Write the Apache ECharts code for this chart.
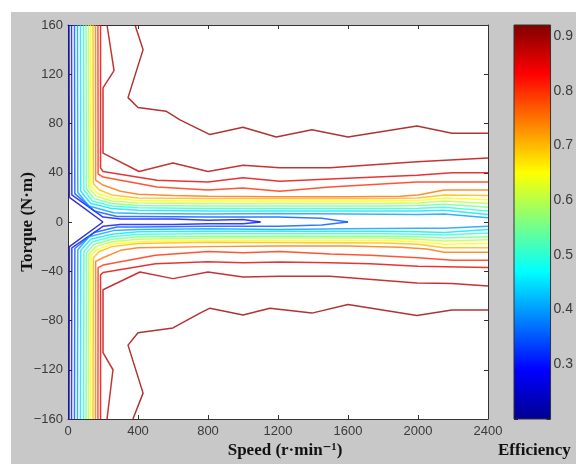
<!DOCTYPE html>
<html><head><meta charset="utf-8">
<script src="https://cdn.jsdelivr.net/npm/echarts@6/dist/echarts.min.js"></script>
<style>html,body{margin:0;padding:0;background:#fff}#c{width:576px;height:464px}</style>
</head><body><div id="c"></div>
<script>
const speedTicks = [0, 400, 800, 1200, 1600, 2000, 2400];
const torqueTicks = [-160, -120, -80, -40, 0, 40, 80, 120, 160];
const effTicks = [0.3, 0.4, 0.5, 0.6, 0.7, 0.8, 0.9];
const effRange = [0.2, 0.92];

// contour lines: [speed (r/min), torque (N·m)]
const up90 = [[383,160],[429,140],[343,101],[400,93],[560,90],[640,83],[811,71],[1000,77],[1190,69],[1394,75],[1600,69],[1994,78],[2194,72],[2400,72]];
const lo90 = [[371,-160],[429,-139],[343,-100],[400,-90],[600,-86],[754,-74],[811,-70],[1000,-75.5],[1154,-70],[1394,-74],[1600,-67],[1994,-76],[2194,-71.5],[2400,-71.5]];
const up88 = [[223,160],[263,123],[200,109],[200,56],[406,41],[600,48],[800,41],[1000,46],[1211,44],[1497,44],[1994,49],[2400,52]];
const lo88 = [[223,-160],[257,-120],[200,-106],[200,-55],[411,-40.6],[600,-46],[800,-40.6],[1000,-44.7],[1211,-44],[1497,-44],[1994,-49.5],[2194,-50],[2400,-52]];
const up85 = [[186,160],[186,44],[200,41],[509,34],[800,32.5],[1000,36],[1211,33],[1497,35],[1994,38],[2194,40],[2400,40]];
const lo85 = [[186,-160],[186,-43],[200,-41],[500,-34],[800,-32.2],[1000,-33],[1211,-32.4],[1497,-33],[1726,-34],[2000,-36],[2400,-37]];
const up80 = [[171,160],[172,39],[200,36.5],[509,28.4],[800,26],[1000,27.6],[1211,25],[1497,28.4],[1994,32.5],[2400,32.5]];
const lo80 = [[171,-160],[172,-37],[200,-35],[500,-27],[800,-24],[1000,-25],[1211,-24],[1500,-26],[1726,-27],[2000,-29],[2200,-31],[2400,-31]];
const up75 = [[157,160],[158,34],[200,30],[300,25],[400,22.5],[600,21.5],[800,21],[1200,20.5],[1600,20.5],[1900,21],[2000,22],[2150,26],[2400,26]];
const lo75 = [[157,-160],[158,-32],[200,-29],[300,-23],[400,-21],[800,-20],[1200,-19.5],[1600,-19.5],[1900,-20.5],[2050,-22],[2150,-24.5],[2400,-24.5]];
const up70 = [[143,160],[145,31],[180,26],[250,22],[400,19.5],[800,19],[1800,19],[2000,19.5],[2150,22],[2400,21.5]];
const lo70 = [[143,-160],[145,-29],[180,-24],[250,-20],[400,-17.5],[800,-16.5],[1800,-17],[2000,-18],[2150,-21],[2400,-21]];
const up65 = [[129,160],[131,29],[170,23],[250,19.5],[400,17.5],[800,17],[1800,17],[2000,17.5],[2150,19.5],[2400,18]];
const lo65 = [[129,-160],[131,-27],[170,-22],[250,-18],[400,-16],[800,-15],[1800,-15],[2000,-16],[2150,-18],[2400,-17.5]];
const up60 = [[117,160],[119,28],[160,21],[250,17],[400,15.5],[800,15],[1800,15],[2000,15.5],[2150,17],[2400,15]];
const lo60 = [[117,-160],[119,-26],[160,-20],[250,-16],[400,-14],[800,-13],[1800,-13],[2000,-14],[2150,-15.5],[2400,-14.5]];
const up55 = [[103,160],[105,27],[150,19],[250,15],[400,13.5],[800,13],[1800,13],[2000,13.5],[2150,14.5],[2400,12]];
const lo55 = [[103,-160],[105,-25],[150,-18],[250,-14],[400,-12],[800,-11.5],[1800,-11.5],[2000,-12],[2150,-13],[2400,-12]];
const up50 = [[89,160],[91,26],[140,17],[250,13],[400,11.5],[800,11],[1800,11],[2000,11.2],[2150,12],[2400,9]];
const lo50 = [[89,-160],[91,-24],[140,-16],[250,-12],[400,-10],[800,-9.5],[1800,-9.5],[2000,-10],[2150,-10.5],[2400,-9]];
const up45 = [[71,160],[73,25],[130,15],[250,11],[400,9.5],[800,9],[1800,9],[2000,9],[2150,9.5],[2400,6]];
const lo45 = [[71,-160],[73,-23],[130,-14],[250,-10],[400,-8],[800,-7.5],[1800,-7.5],[2000,-8],[2150,-8.5],[2400,-6]];
const up40 = [[54,160],[56,24],[120,13],[260,7.5],[400,7],[800,6.5],[1200,7],[1600,6.5],[2000,6],[2150,6.5],[2400,3.5]];
const lo40 = [[54,-160],[56,-22.5],[120,-12],[260,-7],[400,-6],[800,-5.5],[1200,-6],[1600,-5.5],[2000,-5],[2150,-5],[2400,-3.5]];
const up35 = [[37,160],[39,23],[150,9],[280,4.5],[400,4.5],[800,4],[1200,4],[1450,3],[1600,0]];
const lo35 = [[37,-160],[39,-21.5],[150,-8.5],[280,-4],[400,-4],[800,-3.5],[1200,-3.5],[1450,-2.5],[1600,0]];
const up30 = [[20,160],[22,22],[200,4],[300,2.5],[600,2.5],[800,1.5],[1000,2],[1100,0]];
const lo30 = [[20,-160],[22,-21],[200,-3.5],[300,-2],[600,-2],[800,-1.5],[1000,-1.5],[1100,0]];
const up25 = [[6,160],[8,20],[200,0]];
const lo25 = [[6,-160],[8,-20],[200,0]];

const contours = [
  [0.25, up25, lo25], [0.30, up30, lo30], [0.35, up35, lo35], [0.40, up40, lo40],
  [0.45, up45, lo45], [0.50, up50, lo50], [0.55, up55, lo55], [0.60, up60, lo60],
  [0.65, up65, lo65], [0.70, up70, lo70], [0.75, up75, lo75], [0.80, up80, lo80],
  [0.85, up85, lo85], [0.88, up88, lo88], [0.90, up90, lo90]
];

function jet(v) {
  const t = (v - effRange[0]) / (effRange[1] - effRange[0]);
  const c = x => Math.round(255 * Math.max(0, Math.min(1, x)));
  return 'rgb(' + c(1.5 - Math.abs(4*t - 3)) + ',' + c(1.5 - Math.abs(4*t - 2)) + ',' + c(1.5 - Math.abs(4*t - 1)) + ')';
}

const chart = echarts.init(document.getElementById('c'), null, {renderer: 'canvas'});
const labelFont = {color: '#3a3a3a', fontSize: 13, fontFamily: 'Liberation Sans, Arial, sans-serif'};
const axisLineStyle = {show: true, onZero: false, lineStyle: {color: '#333', width: 1}};
const tickStyle = {show: true, inside: true, length: 4, lineStyle: {color: '#333'}};

const lineSeries = [];
contours.forEach(([lv, u, l]) => {
  [u, l].forEach(d => {
    lineSeries.push({
      type: 'line', xAxisIndex: 0, yAxisIndex: 0, data: d,
      symbol: 'none', showSymbol: false, silent: true, animation: false,
      lineStyle: {color: jet(lv), width: 1.5, opacity: 0.8}
    });
  });
});

const option = {
  backgroundColor: '#c8c8c8',
  animation: false,
  grid: [
    {left: 68, top: 25, width: 420, height: 394, show: true, backgroundColor: '#fff', borderWidth: 0},
    {left: 514, top: 25, width: 38, height: 394, show: false}
  ],
  xAxis: [
    {gridIndex: 0, type: 'value', position: 'bottom', min: speedTicks[0], max: speedTicks[speedTicks.length-1], interval: 400,
     axisLine: axisLineStyle, axisTick: tickStyle,
     axisLabel: Object.assign({margin: 6, formatter: v => String(v)}, labelFont), splitLine: {show: false}},
    {gridIndex: 0, type: 'value', position: 'top', min: speedTicks[0], max: speedTicks[speedTicks.length-1], interval: 400,
     axisLine: axisLineStyle, axisTick: tickStyle,
     axisLabel: {show: false}, splitLine: {show: false}},
    {gridIndex: 1, type: 'value', min: 0, max: 1, show: false}
  ],
  yAxis: [
    {gridIndex: 0, type: 'value', position: 'left', min: torqueTicks[0], max: torqueTicks[torqueTicks.length-1], interval: 40,
     axisLine: axisLineStyle, axisTick: tickStyle,
     axisLabel: Object.assign({margin: 5, formatter: v => String(v).replace('-', '\u2212')}, labelFont), splitLine: {show: false}},
    {gridIndex: 0, type: 'value', position: 'right', min: torqueTicks[0], max: torqueTicks[torqueTicks.length-1], interval: 40,
     axisLine: axisLineStyle, axisTick: tickStyle,
     axisLabel: {show: false}, splitLine: {show: false}},
    {gridIndex: 1, type: 'value', position: 'right', min: effRange[0], max: effRange[1], interval: 0.1,
     axisLine: {show: false, onZero: false}, axisTick: {show: true, inside: true, length: 4, lineStyle: {color: '#222'}},
     axisLabel: Object.assign({}, labelFont, {fontSize: 14, margin: 3,
       formatter: v => effTicks.some(t => Math.abs(t - v) < 1e-6) ? v.toFixed(1) : ''}),
     splitLine: {show: false}},
    {gridIndex: 1, type: 'value', position: 'left', min: effRange[0], max: effRange[1], interval: 0.1,
     axisLine: {show: false, onZero: false}, axisTick: {show: true, inside: true, length: 4, lineStyle: {color: '#222'}},
     axisLabel: {show: false}, splitLine: {show: false}}
  ],
  graphic: [
    {type: 'rect', shape: {x: 0, y: 0, width: 576, height: 12}, style: {fill: '#fff'}, silent: true},
    {type: 'rect', shape: {x: 0, y: 0, width: 11, height: 464}, style: {fill: '#fff'}, silent: true},
    {type: 'text', x: 28, y: 222, rotation: Math.PI / 2,
     style: {text: 'Torque (N\u00b7m)', font: 'bold 17px "Liberation Serif", "DejaVu Serif", serif', fill: '#111',
             textAlign: 'center', textVerticalAlign: 'middle'}},
    {type: 'text', x: 285, y: 451,
     style: {text: 'Speed (r\u00b7min\u207b\u00b9)', font: 'bold 17px "Liberation Serif", "DejaVu Serif", serif', fill: '#111',
             textAlign: 'center', textVerticalAlign: 'middle'}},
    {type: 'text', x: 498, y: 451,
     style: {text: 'Efficiency', font: 'bold 17px "Liberation Serif", "DejaVu Serif", serif', fill: '#111',
             textAlign: 'left', textVerticalAlign: 'middle'}}
  ],
  series: lineSeries.concat([{
    type: 'custom', xAxisIndex: 2, yAxisIndex: 2, silent: true, animation: false,
    data: [[0, effRange[0], effRange[1]]],
    renderItem: (params, api) => {
      const p0 = api.coord([0, api.value(2)]);
      const p1 = api.coord([1, api.value(1)]);
      return {
        type: 'rect',
        shape: {x: p0[0], y: p0[1], width: p1[0] - p0[0], height: p1[1] - p0[1]},
        style: {
          fill: new echarts.graphic.LinearGradient(0, 0, 0, 1, [
            {offset: 0, color: '#800000'}, {offset: 0.125, color: '#ff0000'},
            {offset: 0.375, color: '#ffff00'}, {offset: 0.625, color: '#00ffff'},
            {offset: 0.875, color: '#0000ff'}, {offset: 1, color: '#00008f'}
          ]),
          stroke: '#333', lineWidth: 1
        }
      };
    }
  }])
};
chart.setOption(option);
</script>
</body></html>
